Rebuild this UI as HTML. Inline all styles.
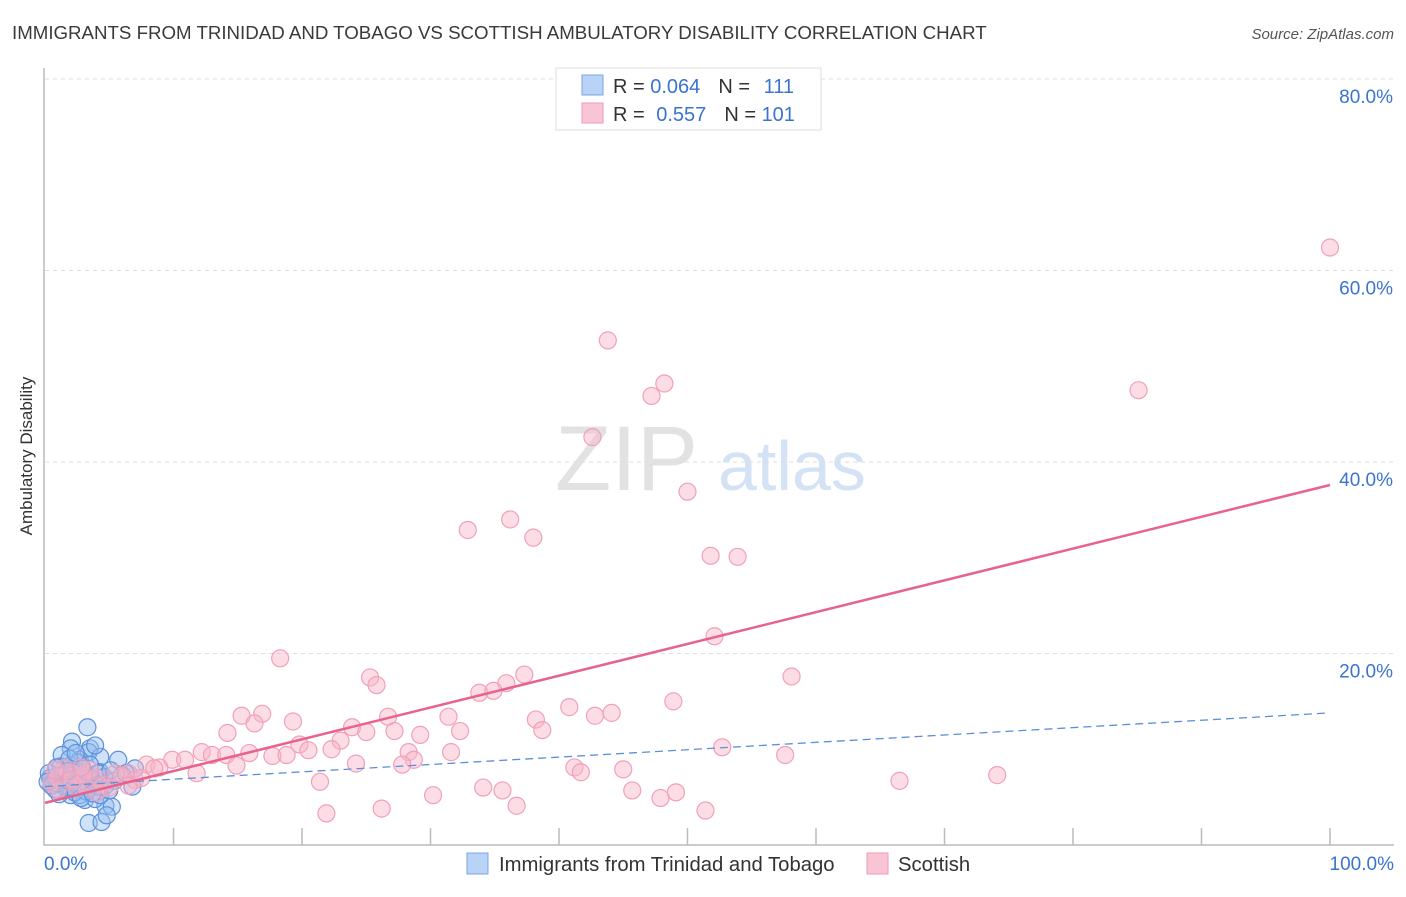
<!DOCTYPE html>
<html><head><meta charset="utf-8"><style>
body{margin:0;background:#fff;font-family:"Liberation Sans",sans-serif}
svg text{font-family:"Liberation Sans",sans-serif}
</style></head><body>
<svg id="c" width="1406" height="892" xmlns="http://www.w3.org/2000/svg">
<text x="12" y="39" font-size="18.7" fill="#3a3a3a">IMMIGRANTS FROM TRINIDAD AND TOBAGO VS SCOTTISH AMBULATORY DISABILITY CORRELATION CHART</text>
<text x="1394" y="39" font-size="15" fill="#555" font-style="italic" text-anchor="end">Source: ZipAtlas.com</text>
<text x="32" y="456" font-size="17" fill="#333" text-anchor="middle" transform="rotate(-90 32 456)">Ambulatory Disability</text>
<g><text x="555" y="490" font-size="92" fill="#e2e2e2" font-family="Liberation Serif,serif">ZIP</text><text x="718" y="490" font-size="70" fill="#d3e2f4">atlas</text></g>
<g id="grid"></g><g id="pts"></g><g id="lines"></g>
<g>
<rect x="556" y="68" width="265" height="62" fill="#fff" stroke="#ddd"/>
<rect x="582" y="75" width="21" height="20" fill="#b8d3f5" stroke="#7aa6e4"/>
<rect x="582" y="103" width="21" height="20" fill="#f9c5d4" stroke="#ee9ab4"/>
<text x="613" y="93" font-size="20" fill="#333">R = <tspan fill="#3a74d0">0.064</tspan><tspan dx="18">N = </tspan><tspan fill="#3a74d0" dx="8">111</tspan></text>
<text x="613" y="121" font-size="20" fill="#333">R = <tspan fill="#3a74d0" dx="6">0.557</tspan><tspan dx="18">N = </tspan><tspan fill="#3a74d0">101</tspan></text>
</g>
<g>
<rect x="467" y="853" width="21" height="21" fill="#b8d3f5" stroke="#7aa6e4"/>
<text x="499" y="871" font-size="20.3" fill="#333">Immigrants from Trinidad and Tobago</text>
<rect x="867" y="853" width="21" height="21" fill="#f9c5d4" stroke="#ee9ab4"/>
<text x="898" y="871" font-size="20.3" fill="#333">Scottish</text>
</g>
</svg>
<script>
const yTicks=[20,40,60,80];
const yTickLabels=["20.0%","40.0%","60.0%","80.0%"];
const xTicks=[0,10,20,30,40,50,60,70,80,90,100];
const pinkX=[100,85.1,43.8,48.2,47.2,42.6,50,36.2,32.9,38,51.8,53.9,52.1,18.3,58.1,37.3,25.3,25.8,35.9,33.8,34.9,48.9,40.8,15.3,16.9,42.8,44.1,26.7,31.4,38.2,16.3,19.3,23.9,38.7,32.3,14.2,25,27.2,29.2,23,19.8,22.3,52.7,20.5,31.6,28.3,57.6,12.2,13,14.1,15.9,17.7,18.8,28.7,24.2,27.8,9.9,10.9,7.9,8.9,14.9,41.2,41.7,45,74.1,11.8,6.5,21.4,66.5,34.1,45.7,35.6,49.1,47.9,30.2,36.7,26.2,51.4,21.9,1,2,3,4,5,6,7,0.5,1.5,2.5,3.5,4.5,5.5,1,2,3,0.8,6.5,7.5,8.5,4,2.8];
const pinkY=[62.4,47.5,52.7,48.2,46.9,42.6,36.9,34,32.9,32.1,30.2,30.1,21.8,19.5,17.6,17.8,17.5,16.7,16.9,15.9,16.1,15,14.4,13.5,13.7,13.5,13.8,13.4,13.4,13.1,12.7,12.9,12.3,12,11.9,11.7,11.8,11.9,11.5,10.9,10.5,10,10.2,9.9,9.7,9.7,9.4,9.7,9.4,9.4,9.6,9.3,9.4,8.9,8.5,8.4,8.9,8.9,8.4,8.1,8.3,8.1,7.6,7.9,7.3,7.5,7.5,6.6,6.7,6,5.7,5.7,5.5,4.9,5.2,4.1,3.8,3.6,3.3,7,7.5,6.5,7,6,7.2,6.8,6.5,8,6,7.8,6.3,7.5,5.8,6.8,7.3,7.8,6.2,7,8,5.5,8.1];
const blueX=[3.3,2.1,3.5,2,3.4,1.3,5.7,7,6.8,4.7,5.2,3.4,4.4,4.8,4.3,3.9,2.7,3.5,2.4,1.2,0.4,0.8,1.6,2,3.1,3.9,4.3,4.7,2.7,3.5,4.3,1.2,2,2.6,3.6,1.6,0.8,0.3,0.6,1.4,2.2,3,3.8,4.6,5.4,1,1.8,2.6,3.4,4.2,5,0.5,1.5,2.5,3.5,2.9,1.9,0.9,4.1,5.1,6,2.3,3.2,1.1,2.8,3.7,6.3,0.2,1.7,2.4];
const blueY=[12.3,10.8,10.1,10.1,9.7,9.4,8.9,8,6.1,4.1,4,2.3,2.4,3.1,9.2,10.4,8.9,8.4,7.8,7.3,7,5.8,6.3,5.2,4.7,4.8,5.2,6.2,5.2,7.1,7.6,8.2,8.3,8.6,7,6,6.8,7.5,6.5,7.2,7.6,6.9,6.6,7.1,6.7,6.4,6.1,6.5,5.9,6.1,5.7,6.2,6.8,6.3,6.9,8,9,8.1,7.5,7.8,7.3,5.5,5.6,5.3,4.9,5.4,7.5,6.6,7.7,9.6];
const pinkLine=[4.4,37.6];
const blueLine=[6.1,13.8];
const X=v=>45+v*12.85, Y=v=>845-v*9.575;
const NS="http://www.w3.org/2000/svg";
function mk(tag,a,p){const e=document.createElementNS(NS,tag);for(const k in a)e.setAttribute(k,a[k]);p.appendChild(e);return e;}
const g=document.getElementById('grid');
yTicks.forEach((t,i)=>{const l=mk('line',{x1:45,x2:1394,y1:Y(t),y2:Y(t),stroke:'#ddd','stroke-dasharray':'4,4'},g);

const tx=mk('text',{x:1393,y:Y(t)+24,'font-size':19,fill:'#3a74d0','text-anchor':'end'},g);tx.textContent=yTickLabels[i];
});
const ax=mk('path',{d:'M44 68V845H1394',fill:'none',stroke:'#bbb','stroke-width':1.5},g);

xTicks.forEach(t=>{if(t===0)return;const l=mk('line',{x1:X(t),x2:X(t),y1:828,y2:845,stroke:'#bbb','stroke-width':1.5},g);
});
const x0=mk('text',{x:44,y:870,'font-size':19,fill:'#3a74d0'},g);x0.textContent='0.0%';

const x1=mk('text',{x:1394,y:870,'font-size':19,fill:'#3a74d0','text-anchor':'end'},g);x1.textContent='100.0%';

const pg=document.getElementById('pts');
blueX.forEach((v,i)=>{const c=mk('circle',{cx:X(v),cy:Y(blueY[i]),r:8.5,fill:'rgba(150,190,240,0.45)',stroke:'#5b90dc','stroke-width':1.2},pg);
});
pinkX.forEach((v,i)=>{const c=mk('circle',{cx:X(v),cy:Y(pinkY[i]),r:8.5,fill:'rgba(248,180,200,0.45)',stroke:'#f0a0ba','stroke-width':1.2},pg);
});
const lg=document.getElementById('lines');
const bl=mk('line',{x1:X(0),y1:Y(blueLine[0]),x2:X(100),y2:Y(blueLine[1]),stroke:'#5b8fd8','stroke-width':1.3,'stroke-dasharray':'8,5'},lg);

const pl=mk('line',{x1:X(0),y1:Y(pinkLine[0]),x2:X(100),y2:Y(pinkLine[1]),stroke:'#e8628c','stroke-width':2.5},lg);

</script>
</body></html>
